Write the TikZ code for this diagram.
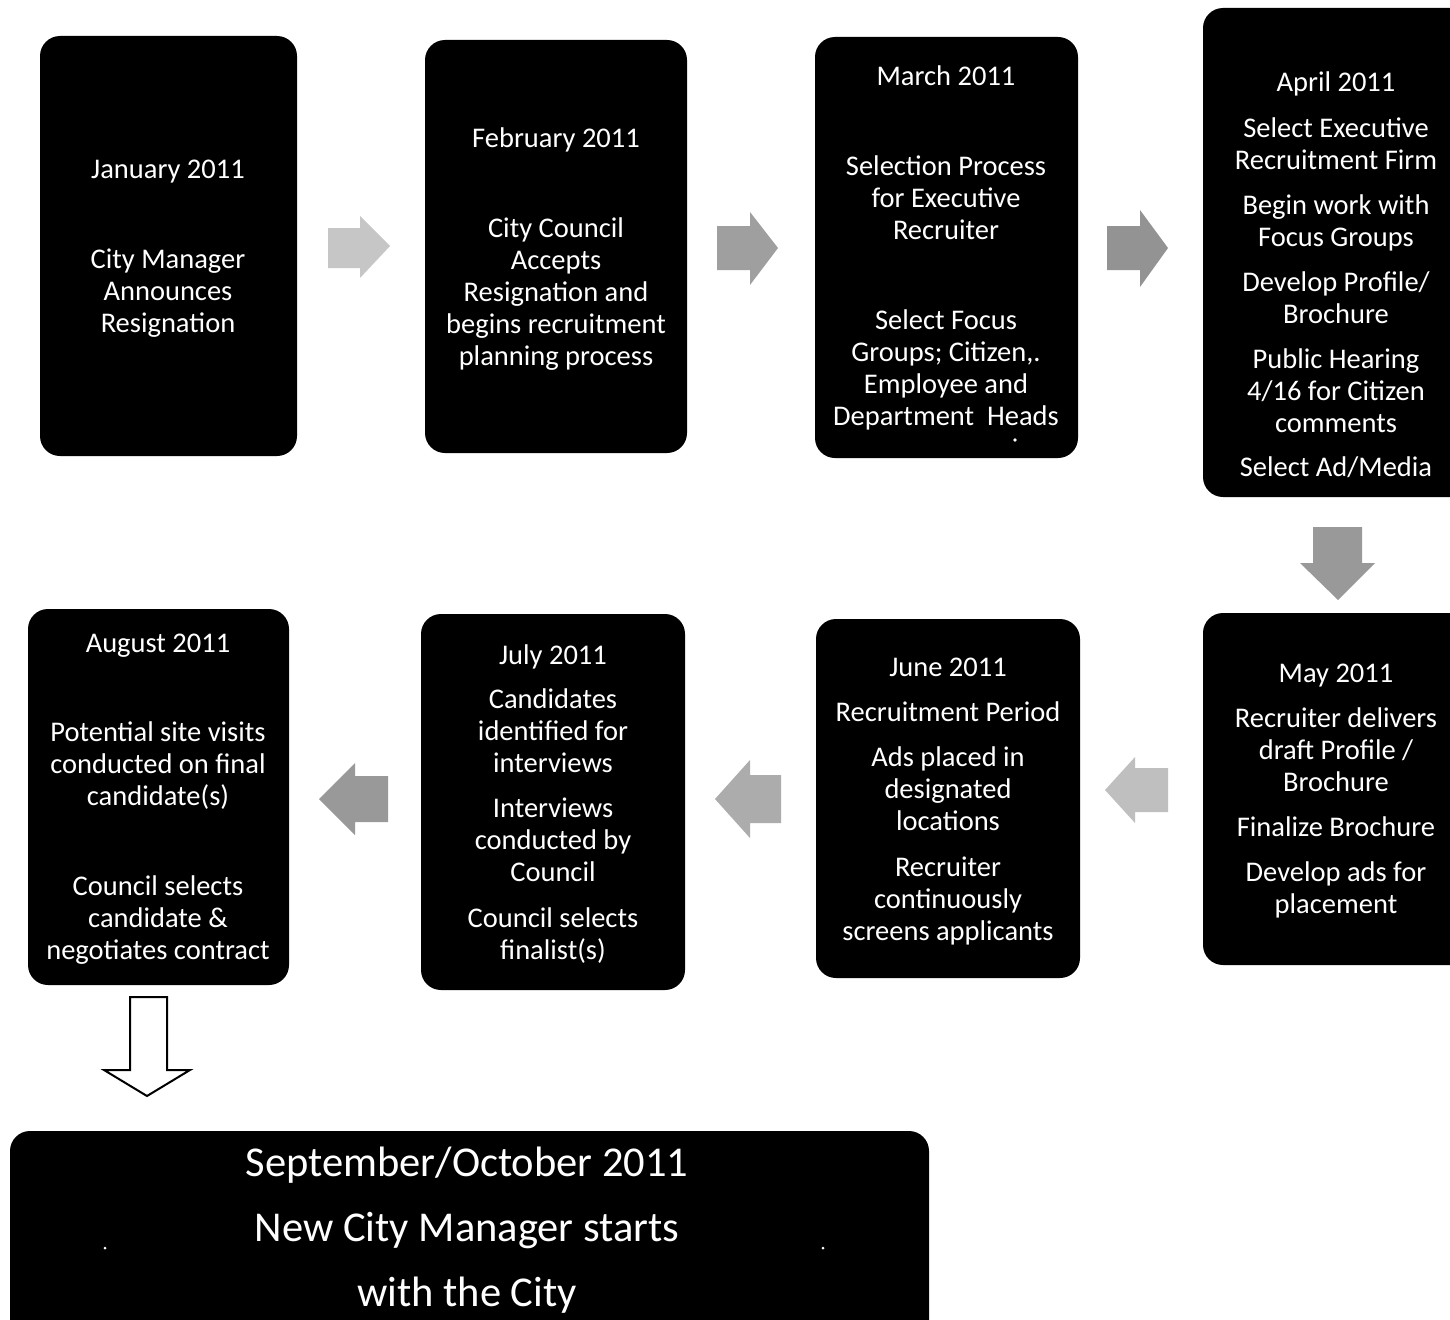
\documentclass[tikz,border=0pt]{standalone}
\usepackage{fontspec}
\setmainfont{Carlito}
\begin{document}
\begin{tikzpicture}[x=1pt,y=-1pt,
  box/.style={fill=black,rounded corners=20pt},
  txt/.style={text=white,align=center,anchor=base,inner sep=0pt,font=\fontsize{28.5}{32}\selectfont},
  bigtxt/.style={text=white,align=center,anchor=base,inner sep=0pt,font=\fontsize{42.5}{65}\selectfont}
]
\useasboundingbox (0,0) rectangle (1450,1319);
\fill[white] (0,0) rectangle (1450,1319);

% boxes
\path[box] (40,36) rectangle (297,456) coordinate (jan);
\path[box] (425,40) rectangle (687,453) coordinate (feb);
\path[box] (815,37) rectangle (1078,458) coordinate (mar);
\path[box] (1203,8) rectangle (1475,497) coordinate (apr);
\path[box] (1203,613) rectangle (1475,965) coordinate (may);
\path[box] (816,619) rectangle (1080,978) coordinate (jun);
\path[box] (421,614) rectangle (685,990) coordinate (jul);
\path[box] (28,609) rectangle (289,985) coordinate (aug);
\path[box] (10,1131) rectangle (929,1345) coordinate (sep);

% January
\node[txt] (t1a) at (168,178) {January 2011};
\node[txt] (t1b) at (168,332) {City Manager\\Announces\\Resignation};
% February
\node[txt] (t2a) at (556,147) {February 2011};
\node[txt] (t2b) at (556,365) {City Council\\Accepts\\Resignation and\\begins recruitment\\planning process};
% March
\node[txt] (t3a) at (946,86) {March 2011};
\node[txt] (t3b) at (946,239) {Selection Process\\for Executive\\Recruiter};
\node[txt] (t3c) at (946,425) {Select Focus\\Groups; Citizen,.\\Employee and\\Department\ \ Heads};
\fill[white] (1015,440) circle (1.8pt);
% April
\node[txt] (t4a) at (1336,92) {April 2011};
\node[txt] (t4b) at (1336,169) {Select Executive\\Recruitment Firm};
\node[txt] (t4c) at (1336,246) {Begin work with\\Focus Groups};
\node[txt] (t4d) at (1336,323) {Develop Profile/\\Brochure};
\node[txt] (t4e) at (1336,432) {Public Hearing\\4/16 for Citizen\\comments};
\node[txt] (t4f) at (1336,476) {Select Ad/Media};
% May
\node[txt] (t5a) at (1336,682) {May 2011};
\node[txt] (t5b) at (1336,791) {Recruiter delivers\\draft Profile /\\Brochure};
\node[txt] (t5c) at (1336,836) {Finalize Brochure};
\node[txt] (t5d) at (1336,913) {Develop ads for\\placement};
% June
\node[txt] (t6a) at (948,676) {June 2011};
\node[txt] (t6b) at (948,721) {Recruitment Period};
\node[txt] (t6c) at (948,830) {Ads placed in\\designated\\locations};
\node[txt] (t6d) at (948,940) {Recruiter\\continuously\\screens applicants};
% July
\node[txt] (t7a) at (553,664) {July 2011};
\node[txt] (t7b) at (553,772) {Candidates\\identified for\\interviews};
\node[txt] (t7c) at (553,881) {Interviews\\conducted by\\Council};
\node[txt] (t7d) at (553,959) {Council selects\\finalist(s)};
% August
\node[txt] (t8a) at (158,652) {August 2011};
\node[txt] (t8b) at (158,805) {Potential site visits\\conducted on final\\candidate(s)};
\node[txt] (t8c) at (158,959) {Council selects\\candidate \&\\negotiates contract};
% Final
\node[bigtxt] (t9) at (467,1306) {September/October 2011\\New City Manager starts\\with the City};
\fill[white] (105,1248) circle (1.5pt);
\fill[white] (823,1248) circle (1.5pt);

% top right arrows
\fill[gray!45] (328,228) -- (360,228) -- (360,216) -- (390,246) -- (360,278) -- (360,268) -- (328,268) -- cycle;
\fill[gray!75] (717,226) -- (750,226) -- (750,212) -- (778,248) -- (750,285) -- (750,270) -- (717,270) -- cycle;
\fill[gray!85] (1107,226) -- (1140,226) -- (1140,210) -- (1168,248) -- (1140,287) -- (1140,270) -- (1107,270) -- cycle;
% down arrow
\fill[gray!80] (1313,527) -- (1362,527) -- (1362,563) -- (1375,563) -- (1338,600) -- (1300,563) -- (1313,563) -- cycle;
% left arrows
\fill[gray!50] (1168,768) -- (1135,768) -- (1135,757) -- (1105,790) -- (1135,823) -- (1135,812) -- (1168,812) -- cycle;
\fill[gray!65] (781,775) -- (750,775) -- (750,760) -- (715,799) -- (750,838) -- (750,823) -- (781,823) -- cycle;
\fill[gray!80] (388,776) -- (355,776) -- (355,763) -- (319,799) -- (355,835) -- (355,822) -- (388,822) -- cycle;
% white down arrow
\draw[line width=2pt,fill=white,line join=miter] (130,997) -- (167,997) -- (167,1070) -- (190,1070) -- (147,1096) -- (104,1070) -- (130,1070) -- cycle;
\end{tikzpicture}
\end{document}
